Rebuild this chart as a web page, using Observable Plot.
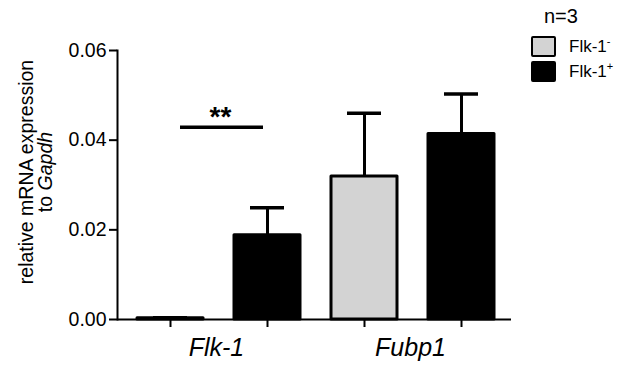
<!DOCTYPE html>
<html>
<head>
<meta charset="utf-8">
<script src="https://cdn.jsdelivr.net/npm/d3@7"></script>
<script src="https://cdn.jsdelivr.net/npm/@observablehq/plot@0.6"></script>
<style>
  html, body { margin: 0; padding: 0; background: #fff; }
  #wrap { position: relative; width: 619px; height: 367px; font-family: "Liberation Sans", Arial, sans-serif; }
  #ylabel { position: absolute; left: 36px; top: 172px; width: 280px; transform: translate(-50%, -50%) rotate(-90deg);
            text-align: center; font-size: 19.5px; line-height: 19px; color: #000; white-space: nowrap; }
  #legend { position: absolute; left: 531px; top: 5px; font-size: 17px; color: #000; }
  #legend .n { position: absolute; left: 13px; top: 0; font-size: 20px; white-space: nowrap; }
  #legend .row { position: absolute; left: 0; height: 20px; display: flex; align-items: center; white-space: nowrap; }
  #legend .sw { width: 21px; height: 17px; border: 2.5px solid #000; border-radius: 2px; margin-right: 13px; }
  #legend sup { font-size: 11px; vertical-align: 7px; }
</style>
</head>
<body>
<div id="wrap"></div>
<script>
// ---- data ----
const groups = ["Flk-1", "Flk-1", "Fubp1", "Fubp1"];
const series = ["Flk-1-", "Flk-1+", "Flk-1-", "Flk-1+"];
const means = [0.0003, 0.0188, 0.0319, 0.0414];
const sems = [0.0001, 0.0061, 0.0141, 0.0089];
const groupNames = ["Flk-1", "Fubp1"];
const yTicks = [0, 0.02, 0.04, 0.06];
const sigLevel = 0.0429;
const sigText = "**";
const nText = "n=3";

const keys = groups.map((g, i) => g + "|" + series[i]);
const data = means.map((m, i) => ({key: keys[i], group: groups[i], series: series[i], mean: m, sem: sems[i]}));
const groupLabels = groupNames.map(g => ({name: g, key: keys[groups.indexOf(g)]}));

const chart = Plot.plot({
  width: 619,
  height: 367,
  marginLeft: 117,
  marginRight: 108,
  marginTop: 50,
  marginBottom: 48,
  style: {fontFamily: "'Liberation Sans', Arial, sans-serif", background: "white", color: "black"},
  x: {domain: keys, range: [136, 495], paddingInner: 0.324, paddingOuter: 0, axis: null},
  y: {domain: [0, 0.06], axis: null},
  color: {domain: ["Flk-1-", "Flk-1+"], range: ["#d3d3d3", "#000000"]},
  marks: [
    Plot.ruleX(data, {x: "key", y1: "mean", y2: d => d.mean + d.sem, stroke: "black", strokeWidth: 3}),
    Plot.tickY(data, {x: "key", y: d => d.mean + d.sem, stroke: "black", strokeWidth: 3.5, insetLeft: 16, insetRight: 16}),
    Plot.barY(data, {x: "key", y: "mean", fill: "series", stroke: "black", strokeWidth: 3, strokeLinejoin: "round"}),
    Plot.axisY({ticks: yTicks, tickFormat: ".2f", tickSize: 8, tickPadding: 3, fontSize: 19.5, strokeWidth: 2, label: null}),
    Plot.axisX({tickSize: 8, tickFormat: () => "", strokeWidth: 2, label: null}),
    Plot.frame({anchor: "left", strokeWidth: 2}),
    Plot.ruleY([0], {strokeWidth: 2}),
    Plot.ruleY([sigLevel], {y: d => d, x1: () => keys[0], x2: () => keys[1], insetLeft: 43, insetRight: 37, strokeWidth: 3.5}),
    Plot.text([sigText], {x: () => keys[0], y: () => sigLevel, text: d => d, dx: 50, dy: -1, lineAnchor: "bottom", fontSize: 28, fontWeight: "bold"}),
    Plot.text(groupLabels, {x: "key", text: "name", frameAnchor: "bottom", dx: 46, dy: 28, lineAnchor: "middle", fontSize: 25, fontStyle: "italic"})
  ]
});

const wrap = document.getElementById("wrap");
wrap.appendChild(chart);

const yl = document.createElement("div");
yl.id = "ylabel";
yl.innerHTML = "relative mRNA expression<br>to <i>Gapdh</i>";
wrap.appendChild(yl);

const lg = document.createElement("div");
lg.id = "legend";
const rows = [
  {label: "Flk-1", sup: "-", color: "#d3d3d3", top: 36},
  {label: "Flk-1", sup: "+", color: "#000000", top: 61}
];
lg.innerHTML = `<div class="n">${nText}</div>` + rows.map(r =>
  `<div class="row" style="top:${r.top - 5}px"><div class="sw" style="background:${r.color}"></div><span>${r.label}<sup>${r.sup}</sup></span></div>`
).join("");
wrap.appendChild(lg);
</script>
</body>
</html>
